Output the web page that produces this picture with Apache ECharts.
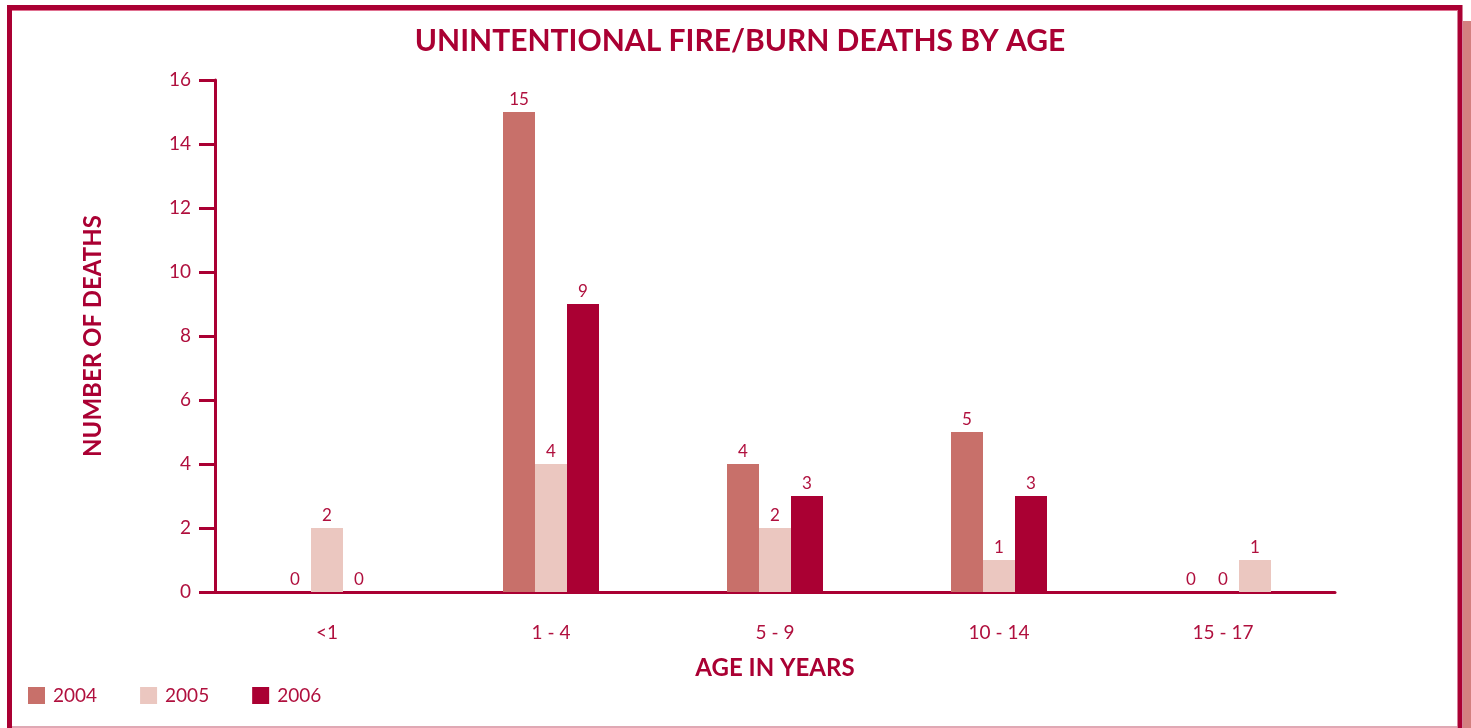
<!DOCTYPE html>
<html><head><meta charset="utf-8">
<script src="https://cdn.jsdelivr.net/npm/echarts@6/dist/echarts.min.js"></script>
<style>html,body{margin:0;padding:0;background:#fff;}#c{width:1471px;height:728px;}</style>
</head><body><div id="c"></div>
<script>
const categories = ['<1', '1 - 4', '5 - 9', '10 - 14', '15 - 17'];
const years = ['2004', '2005', '2006'];
const deaths2004 = [0, 15, 4, 5, 0];
const deaths2005 = [2, 4, 2, 1, 0];
const deaths2006 = [0, 9, 3, 3, 1];
const colors = ['#c8706a', '#ebc7c0', '#aa0033'];
const yTicks = {min: 0, max: 16, interval: 2};

const textColor = '#b0103e';
const dark = '#aa0033';
const font = 'Lato, "Open Sans", sans-serif';

const chart = echarts.init(document.getElementById('c'));
const seriesData = [deaths2004, deaths2005, deaths2006];
// In the source, the last 2006 bar (15 - 17) is drawn in the 2005 shade.
function buildData(i) {
  return seriesData[i].map((v, j) =>
    (i === 2 && j === categories.length - 1) ? {value: v, itemStyle: {color: colors[1]}} : v);
}
chart.setOption({
  animation: false,
  title: {
    text: 'UNINTENTIONAL FIRE/BURN DEATHS BY AGE',
    left: 735, top: 21, textAlign: 'center',
    textStyle: {color: dark, fontSize: 30, fontWeight: 'bold', fontFamily: font}
  },
  legend: {
    left: 23, top: 681, itemWidth: 17, itemHeight: 17, itemGap: 43,
    icon: 'rect',
    textStyle: {color: textColor, fontSize: 19, fontFamily: font, padding: [0, 0, 0, 3]},
    data: years
  },
  grid: {left: 215, right: 136, top: 80, bottom: 136},
  xAxis: {
    type: 'category', data: categories,
    name: 'AGE IN YEARS', nameLocation: 'middle', nameGap: 64,
    nameTextStyle: {color: dark, fontSize: 24, fontWeight: 'bold', fontFamily: font},
    axisLine: {lineStyle: {color: dark, width: 3}},
    axisTick: {length: 14, lineStyle: {color: dark, width: 3}},
    axisLabel: {color: textColor, fontSize: 19, fontFamily: font, margin: 31}
  },
  yAxis: {
    type: 'value', min: yTicks.min, max: yTicks.max, interval: yTicks.interval,
    name: 'NUMBER OF DEATHS', nameLocation: 'middle', nameGap: 110,
    nameTextStyle: {color: dark, fontSize: 24, fontWeight: 'bold', fontFamily: font},
    axisLine: {show: true, lineStyle: {color: dark, width: 3}},
    axisTick: {show: true, length: 16, lineStyle: {color: dark, width: 3}},
    splitLine: {show: false},
    axisLabel: {color: textColor, fontSize: 19, fontFamily: font, margin: 24}
  },
  series: years.map((y, i) => ({
    name: y, type: 'bar', data: buildData(i),
    barWidth: 32, barGap: '0%',
    itemStyle: {color: colors[i]},
    label: {show: true, position: 'top', distance: 4, color: textColor, fontSize: 17, fontFamily: font}
  })),
  graphic: [
    {type: 'rect', shape: {x: 1463, y: 21, width: 8, height: 707}, style: {fill: '#d48080'}, z: 0},
    {type: 'rect', shape: {x: 12, y: 726, width: 1445, height: 2}, style: {fill: '#e0a8b4'}, z: 0},
    {type: 'rect', shape: {x: 12, y: 10, width: 1445, height: 1}, style: {fill: '#e07090'}, z: 0},
    {type: 'rect', shape: {x: 9.5, y: 7.5, width: 1450.5, height: 740}, style: {fill: 'none', stroke: dark, lineWidth: 5}, z: 1}
  ]
});
</script></body></html>
